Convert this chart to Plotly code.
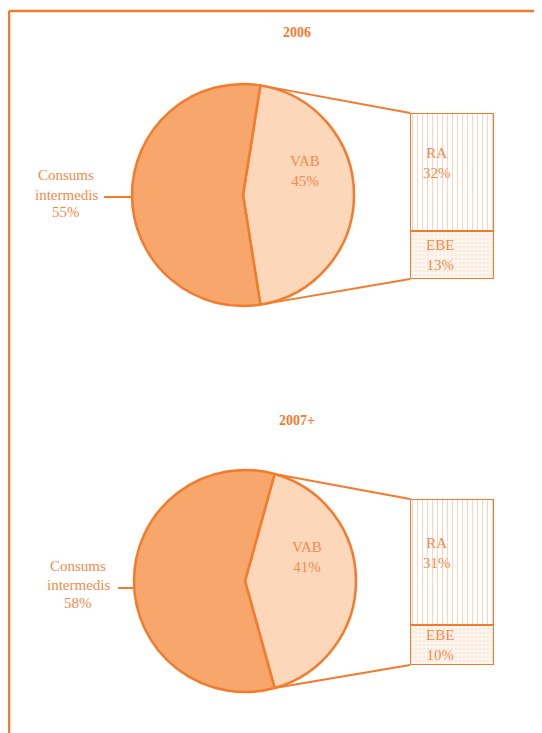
import math
import plotly.graph_objects as go

# page body adds an 8px margin; work in reference pixels and shift
OFF = 8
W, H = 542 - OFF, 733 - OFF

# ---- data ----
years = ["2006", "2007+"]
pie_labels = ["VAB", "Consums intermedis"]
pie_values_2006 = [45, 55]
pie_values_2007 = [41, 58]
bar_labels = ["EBE", "RA"]
bar_values_2006 = [13, 32]
bar_values_2007 = [10, 31]

DARK = "#F7A66C"
LIGHT = "#FDD7BA"
LINE = "#F47B2C"
TEXT = "#F58A4A"
FONT = "Liberation Serif"

def px(x):
    return (x - OFF) / W

def py(y):
    return 1 - (y - OFF) / H

panels = [
    dict(year=years[0], pv=pie_values_2006, bv=bar_values_2006,
         cx=243, cy=195, r=111, bar_x0=410, bar_x1=494, bar_top=113, bar_bot=279,
         title_y=33, cons_x=66, cons_y=[175, 195, 212], lead=(104, 197)),
    dict(year=years[1], pv=pie_values_2007, bv=bar_values_2007,
         cx=245, cy=581, r=111, bar_x0=410, bar_x1=494, bar_top=499, bar_bot=665,
         title_y=420, cons_x=78, cons_y=[566, 585, 603], lead=(118, 588)),
]

fig = go.Figure()
shapes = []
annotations = []

def ann(x, y, text, size=15, color=TEXT):
    annotations.append(dict(x=px(x), y=py(y), xref="paper", yref="paper", text=text,
                            showarrow=False, xanchor="center", yanchor="middle",
                            align="center", font=dict(family=FONT, size=size, color=color)))

for i, p in enumerate(panels):
    vals = p["pv"]
    tot = sum(vals)
    vab_deg = vals[0] / tot * 360
    rot = 90 - vab_deg / 2
    cx, cy, r = p["cx"], p["cy"], p["r"]
    fig.add_trace(go.Pie(
        labels=pie_labels, values=vals, sort=False, direction="clockwise",
        rotation=rot, textinfo="none", hoverinfo="label+percent",
        marker=dict(colors=[LIGHT, DARK], line=dict(color=LINE, width=2.5)),
        domain=dict(x=[px(cx - r), px(cx + r)], y=[py(cy + r), py(cy - r)]),
        showlegend=False,
    ))
    xa = "x" if i == 0 else "x2"
    ya = "y" if i == 0 else "y2"
    bv = p["bv"]
    patterns = [dict(shape=".", fgcolor="#F9B48A", bgcolor="#FFF6F0", size=4, solidity=0.15),
                dict(shape="|", fgcolor="#F8AA78", bgcolor="white", size=5, solidity=0.2)]
    for lab, v, pat in zip(bar_labels, bv, patterns):
        fig.add_trace(go.Bar(
            x=[0], y=[v], name=lab, xaxis=xa, yaxis=ya, width=1,
            marker=dict(color="white", pattern=pat, line=dict(color=LINE, width=2.5)),
            showlegend=False, hoverinfo="name+y",
        ))
    cum = 0
    btot = sum(bv)
    for lab, v in zip(bar_labels, bv):
        mid = cum + v / 2
        cum += v
        ypix = p["bar_bot"] - (mid / btot) * (p["bar_bot"] - p["bar_top"])
        ann(p["bar_x0"] + 27 if lab == "RA" else p["bar_x0"] + 30,
            ypix - (9 if lab == "RA" else 0), f"{lab}<br>{v}%")
    a1 = math.radians(rot)
    a2 = math.radians(rot + vab_deg)
    tx, ty = cx + r * math.sin(a1), cy - r * math.cos(a1)
    bx, by = cx + r * math.sin(a2), cy - r * math.cos(a2)
    shapes.append(dict(type="line", xref="paper", yref="paper",
                       x0=px(tx), y0=py(ty), x1=px(p["bar_x0"]), y1=py(p["bar_top"]),
                       line=dict(color=LINE, width=2)))
    shapes.append(dict(type="line", xref="paper", yref="paper",
                       x0=px(bx), y0=py(by), x1=px(p["bar_x0"]), y1=py(p["bar_bot"]),
                       line=dict(color=LINE, width=2)))
    shapes.append(dict(type="line", xref="paper", yref="paper",
                       x0=px(p["lead"][0]), y0=py(p["lead"][1]),
                       x1=px(cx - r), y1=py(p["lead"][1]),
                       line=dict(color=LINE, width=2)))
    ann(297, p["title_y"], f"<b>{p['year']}</b>", size=14, color=LINE)
    ann(cx + 62, cy - 24, f"{pie_labels[0]}<br>{vals[0]}%")
    cons_words = pie_labels[1].split(" ") + [f"{vals[1]}%"]
    for w, yy in zip(cons_words, p["cons_y"]):
        ann(p["cons_x"], yy, w)

# frame lines
shapes.append(dict(type="line", xref="paper", yref="paper", x0=px(9), y0=py(11), x1=1.0, y1=py(11),
                   line=dict(color=LINE, width=2.5)))
shapes.append(dict(type="line", xref="paper", yref="paper", x0=px(9), y0=py(11), x1=px(9), y1=0,
                   line=dict(color=LINE, width=2.5)))

p0, p1 = panels
axis_common = dict(showgrid=False, zeroline=False, showticklabels=False, showline=False, ticks="")
fig.update_layout(
    width=W, height=H, margin=dict(l=0, r=0, t=0, b=0),
    paper_bgcolor="white", plot_bgcolor="rgba(0,0,0,0)",
    barmode="stack", bargap=0,
    xaxis=dict(domain=[px(p0["bar_x0"]), px(p0["bar_x1"])], range=[-0.5, 0.5], **axis_common),
    yaxis=dict(domain=[py(p0["bar_bot"]), py(p0["bar_top"])], range=[0, sum(p0["bv"])], **axis_common),
    xaxis2=dict(domain=[px(p1["bar_x0"]), px(p1["bar_x1"])], range=[-0.5, 0.5], anchor="y2", **axis_common),
    yaxis2=dict(domain=[py(p1["bar_bot"]), py(p1["bar_top"])], range=[0, sum(p1["bv"])], anchor="x2", **axis_common),
    shapes=shapes, annotations=annotations,
)

fig.write_html("out.html")
